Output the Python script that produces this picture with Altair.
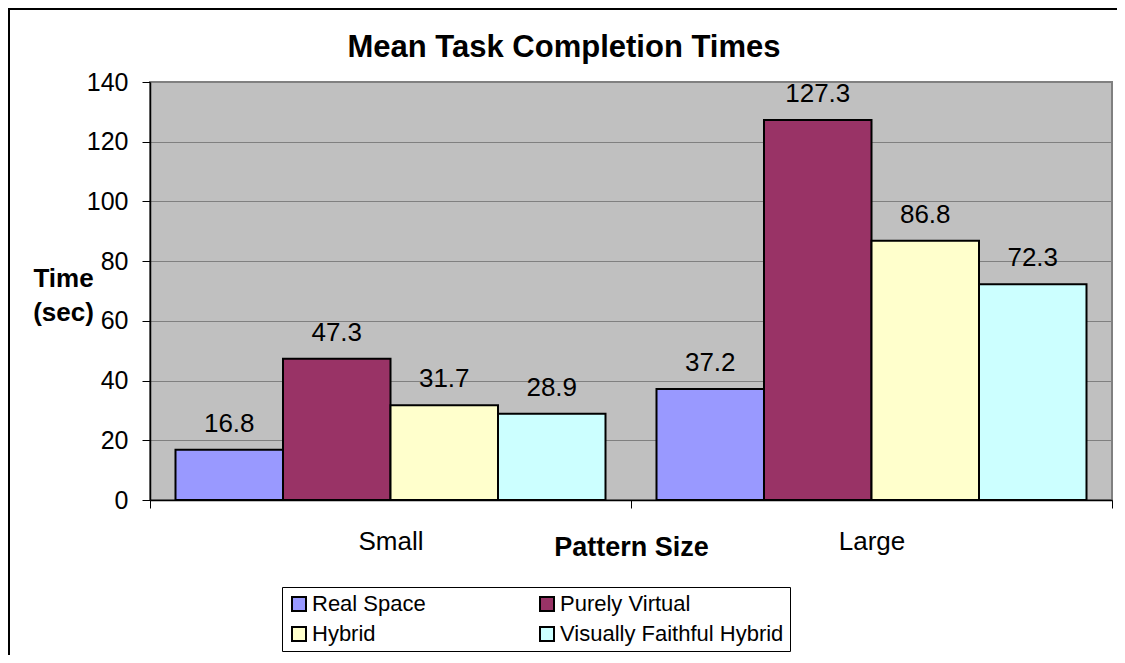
import altair as alt
import pandas as pd

# ---- data ----
sizes = ["Small", "Large"]
series = ["Real Space", "Purely Virtual", "Hybrid", "Visually Faithful Hybrid"]
real_space = [16.8, 37.2]
purely_virtual = [47.3, 127.3]
hybrid = [31.7, 86.8]
visually_faithful = [28.9, 72.3]
colors = ["#9999FF", "#993366", "#FFFFCC", "#CCFFFF"]
y_ticks = [0, 20, 40, 60, 80, 100, 120, 140]
chart_title = "Mean Task Completion Times"

rows = []
for s, vals in zip(series, [real_space, purely_virtual, hybrid, visually_faithful]):
    for size, v in zip(sizes, vals):
        rows.append({"Pattern Size": size, "Series": s, "Time": v, "Label": f"{v:.1f}"})
df = pd.DataFrame(rows)

FONT = "Liberation Sans"

x_enc = alt.X(
    "Pattern Size:N",
    sort=sizes,
    scale=alt.Scale(paddingInner=0, paddingOuter=0),
    axis=alt.Axis(
        title="Pattern Size",
        labelAngle=0,
        tickBand="extent",
        tickSize=8,
        tickColor="black",
        domainColor="black",
        domainWidth=1.5,
        labelFontSize=26,
        labelColor="black",
        labelBaseline="alphabetic",
        labelPadding=41,
        titleFontSize=27,
        titleFontWeight="bold",
        titleColor="black",
        titleBaseline="alphabetic",
        titleY=55,
        grid=False,
    ),
)
xoff_enc = alt.XOffset("Series:N", sort=series,
                       scale=alt.Scale(paddingInner=0, paddingOuter=0.2372))
y_enc = alt.Y(
    "Time:Q",
    scale=alt.Scale(domain=[0, 140], nice=False),
    axis=alt.Axis(
        values=y_ticks,
        title=["Time", "(sec)"],
        titleAngle=0,
        titleAlign="center",
        titleBaseline="alphabetic",
        titleX=-87,
        titleY=204,
        titleLineHeight=34,
        titleFontSize=26,
        titleFontWeight="bold",
        titleColor="black",
        labelFontSize=25,
        labelColor="black",
        labelPadding=14,
        tickSize=8,
        tickColor="black",
        domainColor="black",
        domainWidth=1.5,
        grid=True,
        gridColor="#808080",
        gridWidth=1,
    ),
)

bars = alt.Chart(df).mark_bar(stroke="black", strokeWidth=2).encode(
    x=x_enc,
    xOffset=xoff_enc,
    y=y_enc,
    color=alt.Color(
        "Series:N",
        sort=series,
        scale=alt.Scale(domain=series, range=colors),
        legend=alt.Legend(
            title=None,
            orient="none",
            direction="horizontal",
            legendX=132,
            legendY=505,
            columns=2,
            columnPadding=110,
            rowPadding=8,
            symbolType="square",
            symbolSize=196,
            symbolStrokeColor="black",
            symbolStrokeWidth=2,
            labelFontSize=22,
            labelColor="black",
            labelOffset=2,
            labelLimit=400,
            strokeColor="black",
            fillColor="white",
            padding=6,
        ),
    ),
)

labels = alt.Chart(df).mark_text(
    fontSize=26, baseline="alphabetic", dy=-18, color="black"
).encode(
    x=alt.X("Pattern Size:N", sort=sizes),
    xOffset=alt.XOffset("Series:N", sort=series),
    y=alt.Y("Time:Q"),
    text="Label:N",
)

title_df = pd.DataFrame({"t": [chart_title]})
title_mark = alt.Chart(title_df).mark_text(
    fontSize=31, fontWeight="bold", color="black", align="center", baseline="alphabetic"
).encode(x=alt.value(414), y=alt.value(-25), text="t:N")

frame_df = pd.DataFrame({"k": [0]})
frame_left = alt.Chart(frame_df).mark_rule(color="black", strokeWidth=2).encode(
    x=alt.value(-141), y=alt.value(-74), y2=alt.value(573)
)
frame_top = alt.Chart(frame_df).mark_rule(color="black", strokeWidth=2).encode(
    x=alt.value(-142), x2=alt.value(967), y=alt.value(-73)
)

chart = (
    alt.layer(bars, labels, title_mark, frame_left, frame_top)
    .properties(
        width=962,
        height=418,
        autosize=alt.AutoSizeParams(type="none"),
        padding={"left": 142, "top": 74, "right": 5, "bottom": 155},
    )
    .configure(font=FONT, background="white")
    .configure_view(fill="#C0C0C0", stroke="#808080", strokeWidth=2)
)

chart.save("out.html", embed_options={"renderer": "svg", "actions": False})
